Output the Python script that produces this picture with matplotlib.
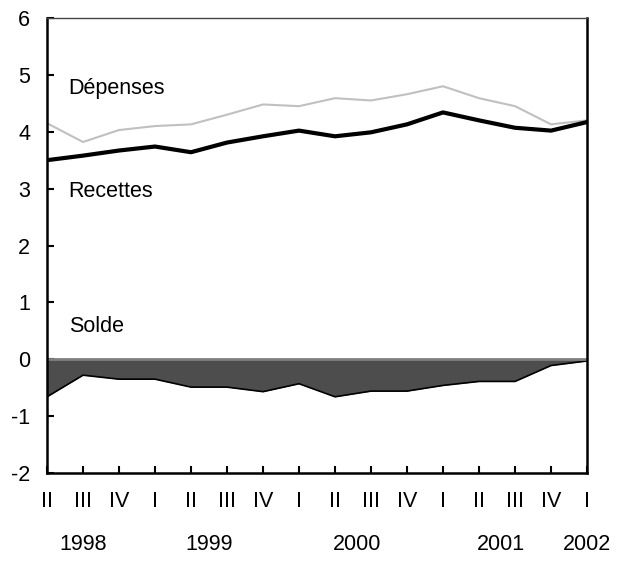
import matplotlib.pyplot as plt
import numpy as np

plt.rcParams['font.family'] = ['Liberation Sans', 'DejaVu Sans']
plt.rcParams['axes.unicode_minus'] = False

quarters = ["II", "III", "IV", "I", "II", "III", "IV", "I",
            "II", "III", "IV", "I", "II", "III", "IV", "I"]
depenses = [4.15, 3.82, 4.03, 4.10, 4.13, 4.30, 4.48, 4.45,
            4.59, 4.55, 4.66, 4.80, 4.59, 4.45, 4.13, 4.20]
recettes = [3.50, 3.58, 3.67, 3.74, 3.64, 3.81, 3.92, 4.02,
            3.92, 3.99, 4.13, 4.34, 4.20, 4.07, 4.02, 4.17]
solde = [-0.66, -0.28, -0.35, -0.35, -0.49, -0.49, -0.57, -0.43,
         -0.66, -0.56, -0.56, -0.46, -0.39, -0.39, -0.11, -0.03]
years = ["1998", "1999", "2000", "2001", "2002"]
year_pos = [1.0, 4.5, 8.6, 12.6, 15.0]

FS = 15.5


def main():
    """Draw chart."""
    x = np.arange(len(quarters))
    fig = plt.figure(figsize=(6.26, 5.67), dpi=100)
    ax = fig.add_axes([47 / 626, 94 / 567, 540 / 626, 455 / 567])

    ax.fill_between(x, solde, 0, color="#4d4d4d", lw=0)
    ax.plot(x, solde, color="black", lw=1.2)
    ax.axhline(0, color="#7f7f7f", lw=2)
    ax.plot(x, depenses, color="#c0c0c0", lw=1.5)
    ax.plot(x, recettes, color="black", lw=3)

    ax.set_xlim(0, len(quarters) - 1)
    ax.set_ylim(-2, 6)
    ax.set_yticks(range(-2, 7))
    ax.set_xticks(x)
    ax.set_xticklabels(quarters)
    ax.tick_params(axis="both", direction="in", length=5, width=1.5,
                   labelsize=FS)
    ax.tick_params(axis="x", pad=13)
    ax.tick_params(axis="y", pad=12)

    for side in ["left", "bottom", "right"]:
        ax.spines[side].set_linewidth(1.8)
    ax.spines["top"].set_linewidth(1.0)
    ax.spines["top"].set_color("#444444")

    ax.text(0.6, 4.76, "Dépenses", fontsize=FS, va="center")
    ax.text(0.6, 2.95, "Recettes", fontsize=FS, va="center")
    ax.text(0.6, 0.58, "Solde", fontsize=FS, va="center")

    for yr, pos in zip(years, year_pos):
        ax.text(pos, -3.25, yr, fontsize=FS, ha="center", va="center",
                clip_on=False)

    fig.savefig("out.png", dpi=100)


if __name__ == "__main__":
    main()
